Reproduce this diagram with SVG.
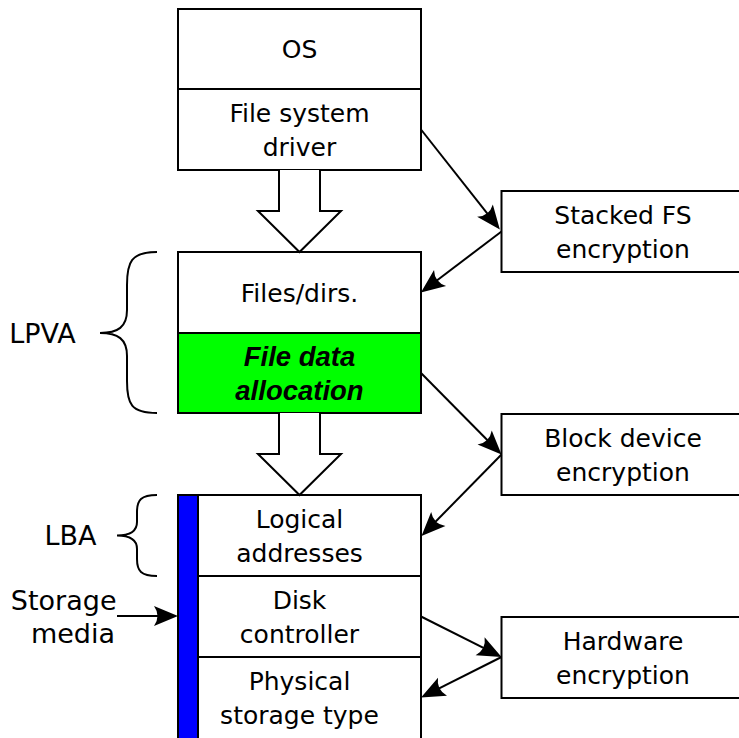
<svg xmlns="http://www.w3.org/2000/svg" width="739" height="738" viewBox="0 0 739 738">
  <style>
    .box { fill: #ffffff; stroke: #000000; stroke-width: 2; }
    .green { fill: #00ff00; stroke: #000000; stroke-width: 2; }
    .blue { fill: #0000ff; stroke: #000000; stroke-width: 2; }
    .hollow { fill: #ffffff; stroke: #000000; stroke-width: 2; stroke-linejoin: miter; }
    .conn { fill: none; stroke: #000000; stroke-width: 2; }
    .brace { fill: none; stroke: #000000; stroke-width: 2; }
    text { font-family: "DejaVu Sans", "Liberation Sans", sans-serif; font-size: 25px; fill: #000000; text-anchor: middle; }
    .side { font-size: 27px; }
    .right { text-anchor: end; }
    .em { font-family: "Liberation Sans", Arial, sans-serif; font-weight: bold; font-style: italic; font-size: 27.5px; }
  </style>
  <defs>
    <marker id="head" markerUnits="userSpaceOnUse" viewBox="-24 -12 34 24" refX="0" refY="0" markerWidth="34" markerHeight="24" orient="auto">
      <path d="M8,0 L-16,-10 Q-9,0 -16,10 Z" fill="#000000"/>
    </marker>
  </defs>

  <!-- main stack -->
  <g id="os">
    <rect class="box" x="178" y="9" width="243" height="80"/>
    <text x="299.5" y="58">OS</text>
  </g>
  <g id="fs-driver">
    <rect class="box" x="178" y="89" width="243" height="81"/>
    <text x="299.5" y="122">File system</text>
    <text x="299.5" y="156">driver</text>
  </g>
  <g id="files-dirs">
    <rect class="box" x="178" y="252" width="243" height="81"/>
    <text x="299.5" y="302">Files/dirs.</text>
  </g>
  <g id="file-data-allocation">
    <rect class="green" x="178" y="333" width="243" height="80"/>
    <text class="em" x="299.5" y="366">File data</text>
    <text class="em" x="299.5" y="399.5">allocation</text>
  </g>
  <g id="logical-addresses">
    <rect class="box" x="178" y="495" width="243" height="81"/>
    <text x="299.5" y="528">Logical</text>
    <text x="299.5" y="562">addresses</text>
  </g>
  <g id="disk-controller">
    <rect class="box" x="178" y="576" width="243" height="81"/>
    <text x="299.5" y="609">Disk</text>
    <text x="299.5" y="643">controller</text>
  </g>
  <g id="physical-storage">
    <rect class="box" x="178" y="657" width="243" height="84"/>
    <text x="299.5" y="690">Physical</text>
    <text x="299.5" y="724">storage type</text>
  </g>
  <g id="storage-media-bar">
    <rect class="blue" x="178" y="495" width="20" height="246"/>
  </g>

  <!-- encryption layers -->
  <g id="stacked-fs">
    <rect class="box" x="501.5" y="191" width="243" height="81"/>
    <text x="623" y="224">Stacked FS</text>
    <text x="623" y="258">encryption</text>
  </g>
  <g id="block-device">
    <rect class="box" x="501.5" y="414" width="243" height="81"/>
    <text x="623" y="447">Block device</text>
    <text x="623" y="481">encryption</text>
  </g>
  <g id="hardware">
    <rect class="box" x="501.5" y="617" width="243" height="81"/>
    <text x="623" y="649.5">Hardware</text>
    <text x="623" y="683.5">encryption</text>
  </g>

  <!-- side labels -->
  <g id="lpva">
    <path class="brace" d="M157,252 C131,252 127,262 127,285 L127,310 C127,327 118,333 100,333 C118,333 127,339 127,356 L127,381 C127,404 131,413 157,413"/>
    <text class="side" x="42.5" y="343">LPVA</text>
  </g>
  <g id="lba">
    <path class="brace" d="M157,495 C141,495 137,500 137,512 L137,522 C137,531 130,535.5 117,535.5 C130,535.5 137,540 137,549 L137,559 C137,571 141,576 157,576"/>
    <text class="side" x="70.5" y="545">LBA</text>
  </g>
  <g id="storage-media">
    <text class="side right" x="116.5" y="609.5">Storage</text>
    <text class="side right" x="115" y="643">media</text>
  </g>

  <!-- connectors -->
  <g id="connectors">
    <path class="hollow" d="M279,170 L279,211 L258,211 L299.5,252 L341,211 L320,211 L320,170"/>
    <path class="hollow" d="M279,413 L279,454 L258,454 L299.5,495 L341,454 L320,454 L320,413"/>
    <g class="conn" marker-end="url(#head)">
      <path d="M421,129.5 L494.9,223.2"/>
      <path d="M501.5,231.5 L427.3,287.7"/>
      <path d="M421,373 L495.9,448.8"/>
      <path d="M501.5,454.5 L427.1,530.3"/>
      <path d="M421,616.5 L494.4,653.4"/>
      <path d="M501.5,657 L428.2,693.9"/>
      <path d="M117,616 L170,616"/>
    </g>
  </g>
</svg>
